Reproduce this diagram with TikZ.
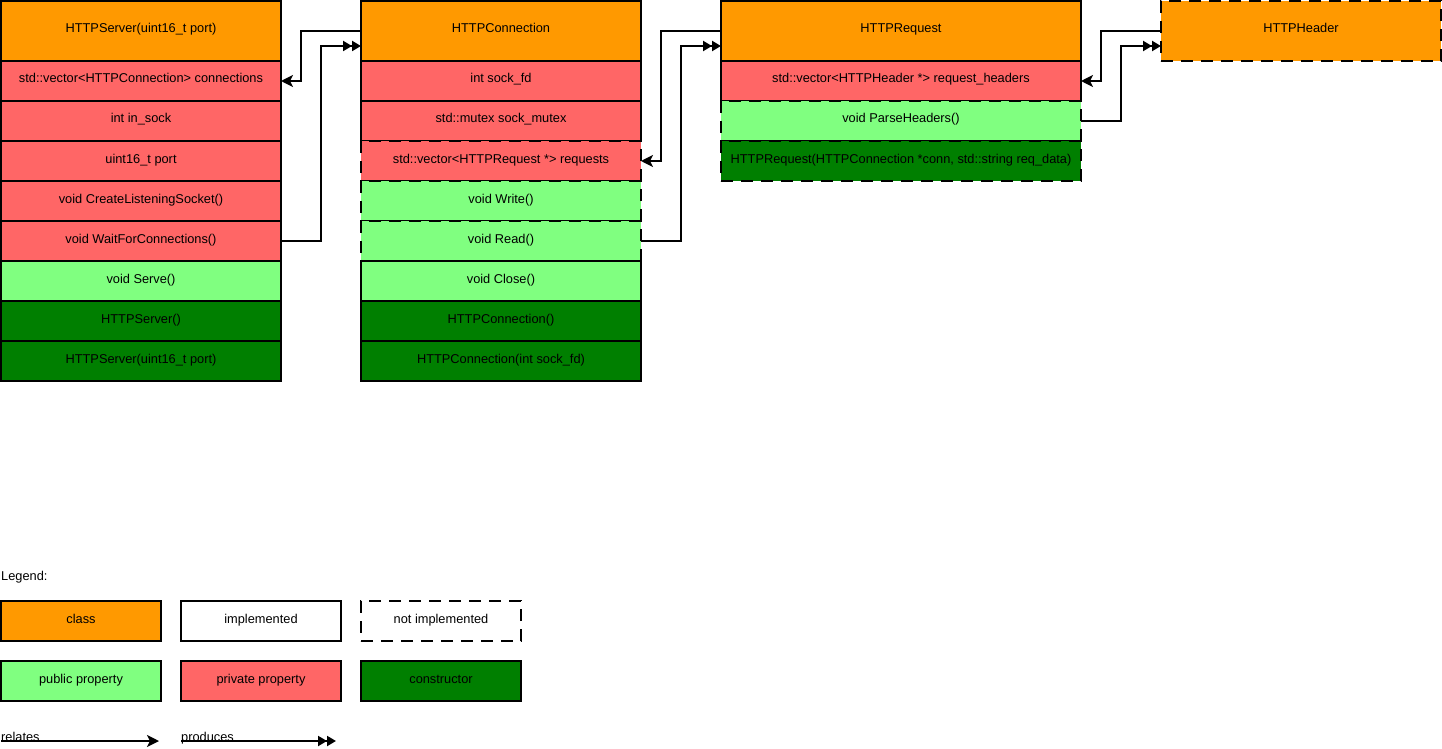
\documentclass[tikz,border=0pt]{standalone}
\usepackage{fontspec}
\setmainfont{Liberation Sans}
\usepackage{xcolor}
\usepackage{tikz}
\usetikzlibrary{arrows.meta, positioning}
\definecolor{classorange}{HTML}{FF9900}
\definecolor{privred}{HTML}{FF6666}
\definecolor{pubgreen}{HTML}{80FF80}
\definecolor{ctorgreen}{HTML}{007F00}
\tikzset{
  box/.style={rectangle, draw=black, line width=2pt, outer sep=0pt, inner sep=2pt, minimum width=280pt, minimum height=40pt, text height=9.5pt, text depth=5.5pt, text centered},
  cls/.style={box, fill=classorange, minimum height=60pt},
  priv/.style={box, fill=privred},
  pub/.style={box, fill=pubgreen},
  ctor/.style={box, fill=ctorgreen},
  notimpl/.style={dash pattern=on 12pt off 8pt},
  relates/.style={line width=2pt, -{Stealth[length=12pt, width=12pt, inset=3pt]}},
  produces/.style={line width=2pt, -{Triangle[length=9pt, width=10pt]Triangle[length=9pt, width=10pt]}}
}

\begin{document}
\begin{tikzpicture}[x=1pt, y=-1pt, every node/.style={font=\fontsize{12.8}{15}\selectfont}]
\useasboundingbox (0,0) rectangle (1442,749);

\node[cls, anchor=north west] (srv) at (1,1) {HTTPServer(uint16\_t port)};
\node[priv, below=0pt of srv] (srvconns) {std::vector<HTTPConnection> connections};
\node[priv, below=0pt of srvconns] (srvsock) {int in\_sock};
\node[priv, below=0pt of srvsock] (srvport) {uint16\_t port};
\node[priv, below=0pt of srvport] (srvlisten) {void CreateListeningSocket()};
\node[priv, below=0pt of srvlisten] (srvwait) {void WaitForConnections()};
\node[pub, below=0pt of srvwait] (srvserve) {void Serve()};
\node[ctor, below=0pt of srvserve] (srvctor) {HTTPServer()};
\node[ctor, below=0pt of srvctor] (srvctorport) {HTTPServer(uint16\_t port)};

\node[cls, right=80pt of srv] (conn) {HTTPConnection};
\node[priv, below=0pt of conn] (connfd) {int sock\_fd};
\node[priv, below=0pt of connfd] (connmutex) {std::mutex sock\_mutex};
\node[priv, notimpl, below=0pt of connmutex] (connreq) {std::vector<HTTPRequest *> requests};
\node[pub, notimpl, below=0pt of connreq] (connwrite) {void Write()};
\node[pub, notimpl, below=0pt of connwrite] (connread) {void Read()};
\node[pub, below=0pt of connread] (connclose) {void Close()};
\node[ctor, below=0pt of connclose] (connctor) {HTTPConnection()};
\node[ctor, below=0pt of connctor] (connctorfd) {HTTPConnection(int sock\_fd)};

\node[cls, minimum width=360pt, right=80pt of conn] (req) {HTTPRequest};
\node[priv, minimum width=360pt, below=0pt of req] (reqheaders) {std::vector<HTTPHeader *> request\_headers};
\node[pub, notimpl, minimum width=360pt, below=0pt of reqheaders] (reqparse) {void ParseHeaders()};
\node[ctor, notimpl, minimum width=360pt, below=0pt of reqparse] (reqctor) {HTTPRequest(HTTPConnection *conn, std::string req\_data)};

\node[cls, notimpl, right=80pt of req] (hdr) {HTTPHeader};

\draw[relates] (conn.west) -- ++(-60,0) |- (srvconns.east);
\draw[produces] (srvwait.east) -- ++(40,0) |- ([yshift=-15pt]conn.west);
\draw[relates] (req.west) -- ++(-60,0) |- (connreq.east);
\draw[produces] (connread.east) -- ++(40,0) |- ([yshift=-15pt]req.west);
\draw[relates] (hdr.west) -- ++(-60,0) |- (reqheaders.east);
\draw[produces] (reqparse.east) -- ++(40,0) |- ([yshift=-15pt]hdr.west);

\node[anchor=west, inner sep=1pt] (legend) at (0,577) {Legend:};
\node[cls, minimum width=160pt, minimum height=40pt, anchor=north west] (lgclass) at (1,601) {class};
\node[box, fill=white, minimum width=160pt, right=20pt of lgclass] (lgimpl) {implemented};
\node[box, notimpl, fill=white, minimum width=160pt, right=20pt of lgimpl] (lgnotimpl) {not implemented};
\node[pub, minimum width=160pt, below=20pt of lgclass] (lgpub) {public property};
\node[priv, minimum width=160pt, right=20pt of lgpub] (lgpriv) {private property};
\node[ctor, minimum width=160pt, right=20pt of lgpriv] (lgctor) {constructor};

\coordinate (relbeg) at (1,741);
\coordinate (relend) at (159,741);
\coordinate (prodbeg) at (181,741);
\coordinate (prodend) at (336,741);
\draw[relates] (relbeg) -- (relend);
\draw[produces] (prodbeg) -- (prodend);
\node[anchor=base west, inner sep=0pt] (relname) at (relbeg) {relates};
\node[anchor=base west, inner sep=0pt] (prodname) at (prodbeg) {produces};
\end{tikzpicture}
\end{document}
